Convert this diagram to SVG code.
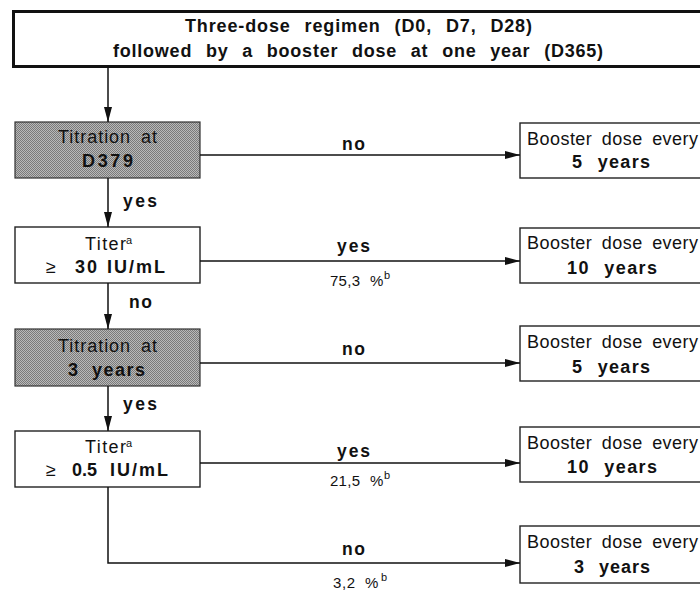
<svg xmlns="http://www.w3.org/2000/svg" width="700" height="591" viewBox="0 0 700 591">
<style>
  text { font-family: "Liberation Sans", Arial, Helvetica, sans-serif; fill: #111; }
  .t { font-size: 18px; font-weight: bold; }
  .n { font-size: 18px; }
  .lbl { font-size: 17.5px; font-weight: bold; }
  .pct { font-size: 15px; }
  .sup { font-size: 11px; }
  .box { fill: #fff; stroke: #222; stroke-width: 1.4; }
  .shade { fill: url(#dither); stroke: #333; stroke-width: 1.2; }
  .title { fill: #fff; stroke: #111; stroke-width: 3; }
  .con { fill: none; stroke: #111; stroke-width: 1.5; }
</style>
<defs>
  <pattern id="dither" x="0" y="0" width="2" height="2" patternUnits="userSpaceOnUse">
    <rect width="2" height="2" fill="#b9b9b9"/>
    <rect x="0" y="0" width="1" height="1" fill="#7a7a7a"/>
    <rect x="1" y="1" width="1" height="1" fill="#7a7a7a"/>
  </pattern>
  <marker id="arr" markerUnits="userSpaceOnUse" markerWidth="16" markerHeight="10" refX="15" refY="4" orient="auto">
    <path d="M0,0 L15,4 L0,8 Z" fill="#111"/>
  </marker>
</defs>

<g id="start">
  <rect class="title" x="13.5" y="11.5" width="700" height="55"/>
  <text class="t" x="185" y="32" textLength="347" lengthAdjust="spacing" style="word-spacing:8px">Three-dose regimen (D0, D7, D28)</text>
  <text class="t" x="113" y="57" textLength="490" lengthAdjust="spacing" style="word-spacing:8px">followed by a booster dose at one year (D365)</text>
</g>

<g id="titration1">
  <rect class="shade" x="15" y="122" width="185" height="56"/>
  <text class="n" x="58" y="143" textLength="99" lengthAdjust="spacing" style="word-spacing:4px">Titration at</text>
  <text class="t" x="82" y="167" textLength="51" lengthAdjust="spacing">D379</text>
</g>

<g id="titer30">
  <rect class="box" x="15" y="227" width="185" height="56"/>
  <text class="n" x="85" y="250" textLength="41" lengthAdjust="spacing">Titer</text>
  <text class="sup" x="126" y="244">a</text>
  <text class="n" x="46" y="273">≥</text>
  <text class="t" x="75" y="273" textLength="22" lengthAdjust="spacing">30</text>
  <text class="t" x="107" y="273" textLength="58" lengthAdjust="spacing">IU/mL</text>
</g>

<g id="titration3">
  <rect class="shade" x="15" y="329" width="185" height="57"/>
  <text class="n" x="58" y="352" textLength="99" lengthAdjust="spacing" style="word-spacing:4px">Titration at</text>
  <text class="t" x="68" y="376" textLength="77" lengthAdjust="spacing" style="word-spacing:6px">3 years</text>
</g>

<g id="titer05">
  <rect class="box" x="15" y="431" width="185" height="56"/>
  <text class="n" x="85" y="453" textLength="41" lengthAdjust="spacing">Titer</text>
  <text class="sup" x="126" y="447">a</text>
  <text class="n" x="46" y="476">≥</text>
  <text class="t" x="72" y="476" textLength="25" lengthAdjust="spacing">0.5</text>
  <text class="t" x="110" y="476" textLength="58" lengthAdjust="spacing">IU/mL</text>
</g>

<g id="booster5a">
  <rect class="box" x="520" y="123" width="190" height="55"/>
  <text class="n" x="527" y="145" textLength="171" lengthAdjust="spacing" style="word-spacing:4px">Booster dose every</text>
  <text class="t" x="572" y="168" textLength="78" lengthAdjust="spacing" style="word-spacing:8px">5 years</text>
</g>

<g id="booster10a">
  <rect class="box" x="520" y="228" width="190" height="55"/>
  <text class="n" x="527" y="249" textLength="171" lengthAdjust="spacing" style="word-spacing:4px">Booster dose every</text>
  <text class="t" x="567" y="274" textLength="90" lengthAdjust="spacing" style="word-spacing:8px">10 years</text>
</g>

<g id="booster5b">
  <rect class="box" x="520" y="326" width="190" height="55"/>
  <text class="n" x="527" y="348" textLength="171" lengthAdjust="spacing" style="word-spacing:4px">Booster dose every</text>
  <text class="t" x="572" y="373" textLength="78" lengthAdjust="spacing" style="word-spacing:8px">5 years</text>
</g>

<g id="booster10b">
  <rect class="box" x="520" y="427" width="190" height="55"/>
  <text class="n" x="527" y="449" textLength="171" lengthAdjust="spacing" style="word-spacing:4px">Booster dose every</text>
  <text class="t" x="567" y="473" textLength="90" lengthAdjust="spacing" style="word-spacing:8px">10 years</text>
</g>

<g id="booster3">
  <rect class="box" x="520" y="526" width="190" height="57"/>
  <text class="n" x="527" y="548" textLength="171" lengthAdjust="spacing" style="word-spacing:4px">Booster dose every</text>
  <text class="t" x="574" y="573" textLength="76" lengthAdjust="spacing" style="word-spacing:8px">3 years</text>
</g>

<g id="connectors">
  <path class="con" d="M108,67 V122" marker-end="url(#arr)"/>
  <path class="con" d="M108,178 V227" marker-end="url(#arr)"/>
  <path class="con" d="M108,283 V329" marker-end="url(#arr)"/>
  <path class="con" d="M108,386 V431" marker-end="url(#arr)"/>
  <path class="con" d="M200,155 H520" marker-end="url(#arr)"/>
  <path class="con" d="M200,261 H520" marker-end="url(#arr)"/>
  <path class="con" d="M200,363 H520" marker-end="url(#arr)"/>
  <path class="con" d="M200,463 H520" marker-end="url(#arr)"/>
  <path class="con" d="M108,487 V563 H520" marker-end="url(#arr)"/>

  <text class="lbl" x="123" y="207" textLength="34" lengthAdjust="spacing">yes</text>
  <text class="lbl" x="129" y="308" textLength="23" lengthAdjust="spacing">no</text>
  <text class="lbl" x="123" y="410" textLength="34" lengthAdjust="spacing">yes</text>

  <text class="lbl" x="342" y="150" textLength="23" lengthAdjust="spacing">no</text>
  <text class="lbl" x="337" y="252" textLength="33" lengthAdjust="spacing">yes</text>
  <text class="pct" x="330" y="286" textLength="30" lengthAdjust="spacing">75,3</text>
  <text class="pct" x="370" y="286">%</text>
  <text class="sup" x="384" y="279">b</text>
  <text class="lbl" x="342" y="355" textLength="23" lengthAdjust="spacing">no</text>
  <text class="lbl" x="337" y="457" textLength="33" lengthAdjust="spacing">yes</text>
  <text class="pct" x="330" y="486" textLength="30" lengthAdjust="spacing">21,5</text>
  <text class="pct" x="370" y="486">%</text>
  <text class="sup" x="384" y="479">b</text>
  <text class="lbl" x="342" y="555" textLength="23" lengthAdjust="spacing">no</text>
  <text class="pct" x="333" y="588" textLength="22" lengthAdjust="spacing">3,2</text>
  <text class="pct" x="365" y="588">%</text>
  <text class="sup" x="381" y="581">b</text>
</g>
</svg>
